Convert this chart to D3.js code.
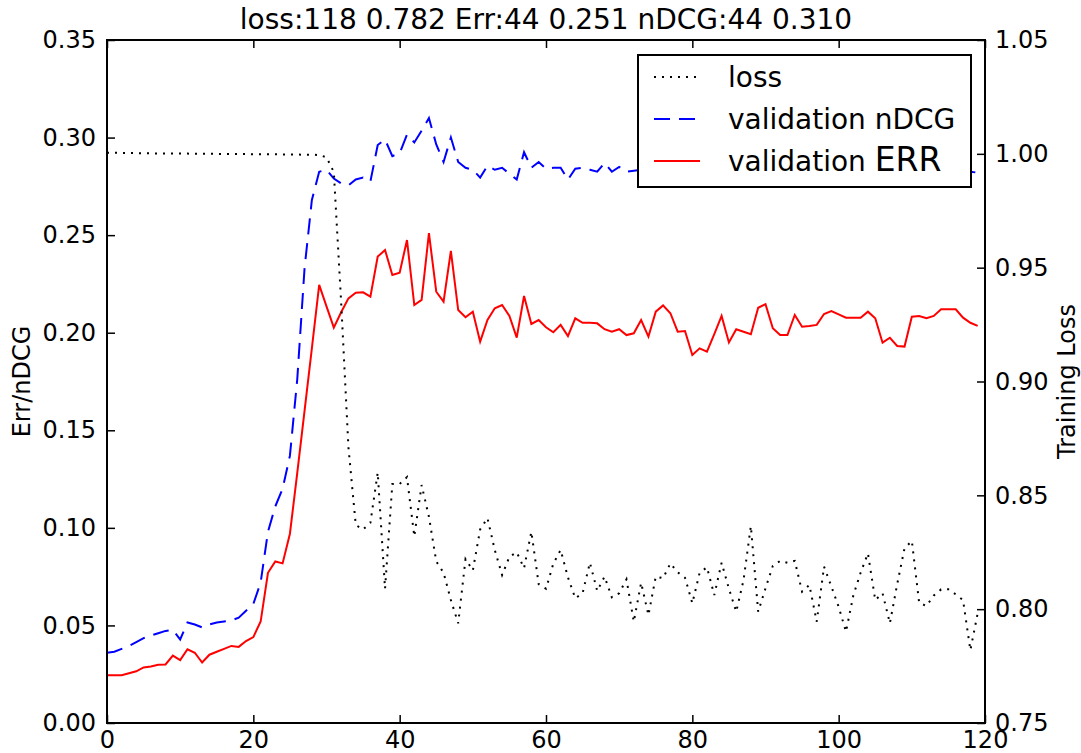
<!DOCTYPE html>
<html>
<head>
<meta charset="utf-8">
<script src="https://cdn.jsdelivr.net/npm/d3@7"></script>
<style>
  body { margin: 0; background: #fff; }
  svg text { font-family: "DejaVu Sans", sans-serif; fill: #000; }
</style>
</head>
<body>
<div id="chart"></div>
<script>
// epochs 0..119
var epochs = d3.range(0, 120);

// validation ERR (left axis)
var errValues = [
  0.0245, 0.0245, 0.0245, 0.0255, 0.0265, 0.0285, 0.029, 0.0298, 0.030, 0.0345,
  0.0322, 0.0378, 0.036, 0.031, 0.035, 0.0365, 0.038, 0.0395, 0.039, 0.042,
  0.044, 0.052, 0.077, 0.0828, 0.0818, 0.097, 0.128, 0.160, 0.192, 0.2245,
  0.2135, 0.2026, 0.2105, 0.2176, 0.2205, 0.2207, 0.2185, 0.239, 0.2424, 0.2296,
  0.2308, 0.2475, 0.2142, 0.2168, 0.251, 0.221, 0.2159, 0.2419, 0.2116, 0.2079,
  0.2108, 0.1954, 0.2065, 0.2125, 0.2142, 0.2086, 0.1975, 0.2188, 0.2045, 0.2065,
  0.2028, 0.2002, 0.204, 0.1983, 0.2074, 0.2051, 0.2051, 0.2048, 0.2018, 0.2005,
  0.2018, 0.1988, 0.1997, 0.2065, 0.198, 0.2108, 0.214, 0.21, 0.2005, 0.2009,
  0.1886, 0.192, 0.1903, 0.1993, 0.2086, 0.195, 0.2018, 0.2005, 0.1992, 0.2128,
  0.2146, 0.2023, 0.1988, 0.1988, 0.2091, 0.2031, 0.2035, 0.204, 0.2096, 0.2111,
  0.2094, 0.2077, 0.2077, 0.2077, 0.2108, 0.2074, 0.1949, 0.1974, 0.1932, 0.1929,
  0.2082, 0.2086, 0.2074, 0.2086, 0.212, 0.212, 0.212, 0.2077, 0.2051, 0.2035
];

// validation nDCG (left axis)
var ndcgValues = [
  0.036, 0.0365, 0.038, 0.0395, 0.0415, 0.0435, 0.0448, 0.046, 0.0472, 0.0478,
  0.0428, 0.0515, 0.0505, 0.049, 0.0505, 0.0515, 0.052, 0.0525, 0.054, 0.0575,
  0.061, 0.072, 0.098, 0.111, 0.12, 0.137, 0.176, 0.233, 0.268, 0.2825,
  0.2835, 0.279, 0.2765, 0.2755, 0.2785, 0.2795, 0.2775, 0.2962, 0.299, 0.2905,
  0.292, 0.3015, 0.2975, 0.3035, 0.310, 0.2965, 0.2875, 0.300, 0.2875, 0.2845,
  0.2835, 0.2795, 0.2855, 0.2835, 0.2845, 0.2815, 0.2785, 0.2925, 0.2845, 0.2875,
  0.284, 0.2845, 0.2845, 0.2785, 0.284, 0.2845, 0.2835, 0.2825, 0.287, 0.2825,
  0.285, 0.2825, 0.283, 0.2835, 0.282, 0.284, 0.2825, 0.283, 0.2845, 0.2815,
  0.283, 0.2835, 0.2825, 0.284, 0.2835, 0.282, 0.2845, 0.283, 0.2825, 0.2835,
  0.284, 0.2825, 0.283, 0.2845, 0.282, 0.2835, 0.283, 0.2825, 0.284, 0.2835,
  0.283, 0.2825, 0.2845, 0.283, 0.2835, 0.282, 0.284, 0.283, 0.2825, 0.2835,
  0.283, 0.284, 0.2825, 0.283, 0.2835, 0.2825, 0.283, 0.2825, 0.2825, 0.282
];

// training loss (right axis)
var lossValues = [
  1.0005, 1.0005, 1.0004, 1.0004, 1.0003, 1.0003, 1.0002, 1.0002, 1.0002, 1.0001,
  1.0001, 1.0001, 1.0, 1.0, 1.0, 1.0, 0.9999, 0.9999, 0.9999, 0.9999,
  0.9998, 0.9998, 0.9998, 0.9998, 0.9997, 0.9997, 0.9997, 0.9996, 0.9996, 0.9995,
  0.9985, 0.992, 0.935, 0.871, 0.837, 0.835, 0.838, 0.86, 0.809, 0.855,
  0.855, 0.858, 0.832, 0.8545, 0.8406, 0.821, 0.816, 0.804, 0.7938, 0.822,
  0.817, 0.835, 0.840, 0.826, 0.815, 0.823, 0.825, 0.818, 0.834, 0.811,
  0.809, 0.820, 0.826, 0.814, 0.8048, 0.807, 0.8204, 0.808, 0.8143, 0.8052,
  0.807, 0.8131, 0.7945, 0.8116, 0.7974, 0.8143, 0.8136, 0.8201, 0.8162, 0.8138,
  0.8026, 0.816, 0.8184, 0.8062, 0.8204, 0.809, 0.7989, 0.8128, 0.8365, 0.7989,
  0.8092, 0.819, 0.8212, 0.8204, 0.8212, 0.8077, 0.8106, 0.7945, 0.8187, 0.810,
  0.801, 0.7901, 0.806, 0.816, 0.8245, 0.804, 0.807, 0.7938, 0.811, 0.8267,
  0.830, 0.8028, 0.8014, 0.806, 0.8087, 0.8087, 0.8065, 0.804, 0.782, 0.7982
];

var xTicks = [0, 20, 40, 60, 80, 100, 120];
var leftTicks = [0, 0.05, 0.10, 0.15, 0.20, 0.25, 0.30, 0.35];
var rightTicks = [0.75, 0.80, 0.85, 0.90, 0.95, 1.00, 1.05];

var titleText = "loss:118 0.782 Err:44 0.251 nDCG:44 0.310";

// page size and plot box
var width = 1081;
var height = 753;
var margin = {top: 40, right: 96, bottom: 30, left: 107};
var plotW = width - margin.left - margin.right;
var plotH = height - margin.top - margin.bottom;

var svg = d3.select("#chart")
    .append("svg")
    .attr("width", width)
    .attr("height", height);

svg.append("rect")
    .attr("width", width)
    .attr("height", height)
    .attr("fill", "#fff");

var chartGroup = svg.append("g")
    .attr("transform", `translate(${margin.left}, ${margin.top})`);

// scales
var xScale = d3.scaleLinear().domain([0, 120]).range([0, plotW]);
var yLeft = d3.scaleLinear().domain([0, 0.35]).range([plotH, 0]);
var yRight = d3.scaleLinear().domain([0.75, 1.05]).range([plotH, 0]);

// lines
var ndcgLine = d3.line()
    .x((d, i) => xScale(epochs[i]))
    .y(d => yLeft(d));
var lossLine = d3.line()
    .x((d, i) => xScale(epochs[i]))
    .y(d => yRight(d));

chartGroup.append("path")
    .datum(ndcgValues)
    .attr("d", ndcgLine)
    .attr("fill", "none")
    .attr("stroke", "#0000ff")
    .attr("stroke-width", 2)
    .attr("stroke-dasharray", "16,9");

chartGroup.append("path")
    .datum(errValues)
    .attr("d", ndcgLine)
    .attr("fill", "none")
    .attr("stroke", "#ff0000")
    .attr("stroke-width", 2);

chartGroup.append("path")
    .datum(lossValues)
    .attr("d", lossLine)
    .attr("fill", "none")
    .attr("stroke", "#000")
    .attr("stroke-width", 2)
    .attr("stroke-dasharray", "2,6");

// axes, ticks pointing inward
var fmt = d3.format(".2f");

var xAxis = d3.axisBottom(xScale).tickValues(xTicks)
    .tickSizeInner(-8).tickSizeOuter(0).tickPadding(8);
var xAxisTop = d3.axisTop(xScale).tickValues(xTicks)
    .tickSizeInner(-8).tickSizeOuter(0).tickFormat("");
var yAxisL = d3.axisLeft(yLeft).tickValues(leftTicks)
    .tickSizeInner(-8).tickSizeOuter(0).tickPadding(11).tickFormat(fmt);
var yAxisR = d3.axisRight(yRight).tickValues(rightTicks)
    .tickSizeInner(-8).tickSizeOuter(0).tickPadding(10).tickFormat(fmt);

var axes = [
  chartGroup.append("g").attr("transform", `translate(0, ${plotH})`).call(xAxis),
  chartGroup.append("g").call(xAxisTop),
  chartGroup.append("g").call(yAxisL),
  chartGroup.append("g").attr("transform", `translate(${plotW}, 0)`).call(yAxisR)
];
axes.forEach(function(a) {
  a.select(".domain").remove();
  a.selectAll("line").attr("stroke", "#000").attr("stroke-width", 1.5);
  a.selectAll("text").style("font-size", "24px")
    .style("font-family", "'DejaVu Sans', sans-serif").attr("fill", "#000");
});

// legend box
var legendItems = [
  {label: "loss", color: "#000", dash: "2,6"},
  {label: "validation nDCG", color: "#0000ff", dash: "16,9"},
  {label: "validation ", big: "ERR", color: "#ff0000", dash: null}
];

var legend = chartGroup.append("g")
    .attr("transform", `translate(${638 - margin.left}, ${55 - margin.top})`);

legend.append("rect")
    .attr("width", 333)
    .attr("height", 132)
    .attr("fill", "#fff")
    .attr("stroke", "#000")
    .attr("stroke-width", 2);

legendItems.forEach(function(d, i) {
  var y = 22 + i * 42;
  legend.append("line")
    .attr("x1", 16).attr("x2", 62)
    .attr("y1", y).attr("y2", y)
    .attr("stroke", d.color)
    .attr("stroke-width", 2)
    .attr("stroke-dasharray", d.dash);
  var t = legend.append("text")
    .attr("x", 90)
    .attr("y", y)
    .attr("dy", "0.36em")
    .style("font-size", "28px")
    .text(d.label);
  if (d.big) {
    t.append("tspan").style("font-size", "33px").text(d.big);
  }
});

// frame
chartGroup.append("rect")
    .attr("width", plotW)
    .attr("height", plotH)
    .attr("fill", "none")
    .attr("stroke", "#000")
    .attr("stroke-width", 2);

// title and axis labels
svg.append("text")
    .attr("x", margin.left + plotW / 2)
    .attr("y", 29)
    .attr("text-anchor", "middle")
    .style("font-size", "28px")
    .text(titleText);

svg.append("text")
    .attr("transform", `translate(30, ${margin.top + plotH / 2}) rotate(-90)`)
    .attr("text-anchor", "middle")
    .style("font-size", "24px")
    .text("Err/nDCG");

svg.append("text")
    .attr("transform", `translate(1058, ${margin.top + plotH / 2}) rotate(-90)`)
    .attr("text-anchor", "middle")
    .attr("dy", "0.7em")
    .style("font-size", "24px")
    .text("Training Loss");
</script>
</body>
</html>
